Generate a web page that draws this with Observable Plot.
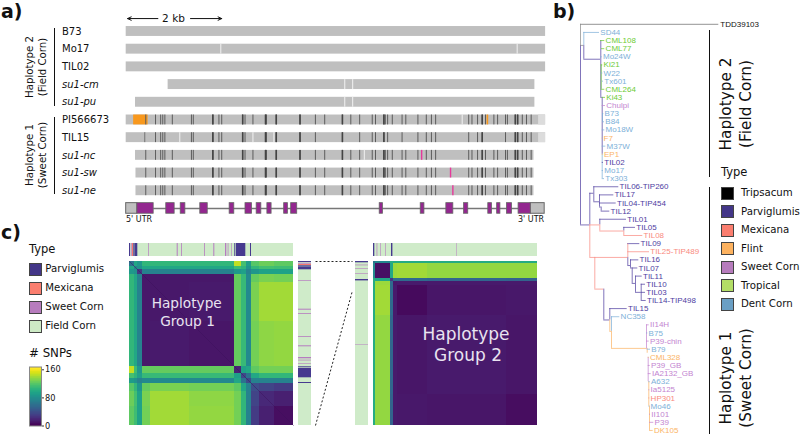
<!DOCTYPE html>
<html>
<head>
<meta charset="utf-8">
<script src="https://cdn.jsdelivr.net/npm/d3@7"></script>
<script src="https://cdn.jsdelivr.net/npm/@observablehq/plot@0.6"></script>
<style>
html,body{margin:0;padding:0;background:#fff}
#fig{position:relative;width:800px;height:434px;overflow:hidden;font-family:"DejaVu Sans",sans-serif;color:#111}
#fig>svg{position:absolute;background:none;overflow:visible}
.t{position:absolute;white-space:nowrap;line-height:1;transform:translate(0,-50%)}
.c{transform:translate(-50%,-50%)}
.r{transform:translate(-50%,-50%) rotate(-90deg)}
.sw{position:absolute;box-sizing:border-box;border:1px solid #444}
.ln{position:absolute;background:#111}
</style>
</head>
<body>
<div id="fig"></div>
<script>
// ---------- panel a: alignment, positions in kb ----------
const rowNames = ["B73","Mo17","TIL02","su1-cm","su1-pu","PI566673","TIL15","su1-nc","su1-sw","su1-ne"];
const rowItalic = [false,false,false,true,true,false,false,true,true,true];
const rowSpans = [[0,9],[0,9],[0,9],[0.90,8.77],[0.20,8.77],[0,9],[0,9],[0.20,8.75],[0.21,8.75],[0.21,8.75]];
const gapsByRow = {1:[2.03,8.39],3:[4.69,4.86],4:[4.69,4.86],5:[7.21],6:[0.40,1.15,2.72,3.17],7:[5.11]};
const snps = [0.42,0.63,0.74,0.785,0.83,0.99,1.40,1.44,1.86,1.99,2.05,2.50,2.55,2.72,2.99,3.01,3.22,3.73,4.06,4.26,4.64,4.82,5.01,5.28,5.35,5.53,5.56,5.61,5.71,5.92,6.00,6.26,6.44,6.55,6.64,7.35,7.42,7.54,7.64,7.71,7.89,7.97,8.14,8.18,8.35,8.40,8.50,8.59,8.69];
const snpsTil15 = [0.40,0.63,0.74,0.785,0.83,1.40,1.44,1.86,1.99,2.05,2.50,2.55,2.99,3.01,3.22,3.73,4.06,4.64,5.01,5.28,5.35,5.53,5.61,5.92,6.26,6.44,6.55,6.64,7.35,7.54,7.64,8.14,8.35,8.40,8.50,8.59,8.69];
const snpsStrong = [1.86,2.50,2.99,3.22,3.73,4.64,5.53,7.64,8.35,8.40];
const pinkByRow = {7:6.34,8:6.96,9:7.01};
const orangeBlock = [0.16,0.47];
const orangeTick = 7.75;
const fadedTail = [8.85,9];
const exons = [[0.24,0.59],[0.86,1.04],[1.17,1.27],[1.59,1.75],[2.22,2.32],[2.56,2.70],[2.80,2.90],[3.03,3.12],[3.39,3.47],[3.54,3.67],[5.44,5.51],[6.32,6.40],[6.87,7.02],[7.25,7.34],[7.77,7.85],[7.96,8.03],[8.17,8.28],[8.42,8.68]];
const utrs = [[0,0.24],[8.68,8.98]];
const geneSpan = [0.59,8.42];
const scaleBar = [[0.68,0.03],[1.38,2.05]];

// ---------- panel b: tree, depth in branch-length units, rows = tip order ----------
const treeTypes = ["Outgroup","Parviglumis","Mexicana","Flint","Sweet Corn","Tropical","Dent Corn"];
const treeColors = ["#888888","#4e3d9f","#f98a80","#fbb466","#c384d0","#6ccb35","#7db0d8"];
const tips = [
["SD44","Dent Corn",3.3,19],["CML108","Tropical",20,24.3],["CML77","Tropical",21,24.3],["Mo24W","Dent Corn",20,21.7],["Ki21","Tropical",20.7,22.3],["W22","Dent Corn",20.7,22.3],["Tx601","Dent Corn",21.7,23],["CML264","Tropical",20.7,24.3],["Ki43","Tropical",21.7,25],["Chulpi","Sweet Corn",21.7,25],["B73","Dent Corn",22,23.3],["B84","Dent Corn",22.3,24],["Mo18W","Dent Corn",21.7,24.3],["F7","Flint",21.7,22.3],["M37W","Dent Corn",21.7,25.3],["EP1","Flint",21.7,22.7],["TIL02","Parviglumis",21.7,23],["Mo17","Dent Corn",21.7,23],["Tx303","Dent Corn",21.7,24],
["TIL06-TIP260","Parviglumis",13.3,38.3],["TIL17","Parviglumis",19,33.3],["TIL04-TIP454","Parviglumis",19,35.7],["TIL12","Parviglumis",20.7,29.3],["TIL01","Parviglumis",19.3,46],["TIL05","Parviglumis",43.3,55],["TIL08","Mexicana",43.3,62.3],["TIL09","Parviglumis",48.3,59.3],["TIL25-TIP489","Mexicana",47.3,69],["TIL16","Parviglumis",50,58.3],["TIL07","Parviglumis",51.7,57.3],["TIL11","Parviglumis",55,61.7],["TIL10","Parviglumis",60.7,65],["TIL03","Parviglumis",60.7,65],["TIL14-TIP498","Parviglumis",60.7,65.7],["TIL15","Parviglumis",29.3,46.7],["NC358","Dent Corn",31,39.3],
["II14H","Sweet Corn",66,68.7],["B75","Dent Corn",66,67.3],["P39-chin","Sweet Corn",66,68.7],["B79","Dent Corn",66.7,70],["CML328","Flint",67.7,68.7],["P39_GB","Sweet Corn",67.7,69.7],["IA2132_GB","Sweet Corn",67.7,70.7],["A632","Dent Corn",68.3,69.7],["Ia5125","Sweet Corn",68.3,69.3],["HP301","Mexicana",68.3,69.3],["Mo46","Dent Corn",68.3,69.3],["II101","Sweet Corn",69,70],["P39","Sweet Corn",69,73.3],["DK105","Flint",69,72.7]];
const outgroup = ["TDD39103",-1,0,138.3];
const hBranches = [
[1.6,0,3.3,"Outgroup"],[3.3,3.3,20,"Parviglumis"],[8,20.3,21.7,"Parviglumis"],
[23.7,0,9.3,"Parviglumis"],[19.8,9.3,13.3,"Parviglumis"],[20.85,13.3,19,"Parviglumis"],[21.5,19,20.7,"Parviglumis"],
[23.7,9.3,19.3,"Mexicana"],[24.45,19.3,43.3,"Mexicana"],[27.7,9.3,47.3,"Mexicana"],
[26,47.3,48.3,"Parviglumis"],[28.7,47.3,50,"Parviglumis"],[29,50,51.7,"Parviglumis"],[30.9,51.7,55,"Parviglumis"],[32,55,60.7,"Parviglumis"],
[31.6,14.3,23.3,"Mexicana"],[35.4,23.3,29.3,"Parviglumis"],[36.8,29.3,31,"Flint"],[38.9,31,66,"Flint"]];
const vBranches = [
[0,-1,1.6,"Outgroup"],[0,1.6,23.7,"Parviglumis"],[3.3,0,1.6,"Dent Corn"],[3.3,1.6,3.3,"Parviglumis"],
[20.3,1,8,"Parviglumis"],[20.7,4,7,"Tropical"],[21.7,8,15,"Parviglumis"],[21.7,15,18,"Dent Corn"],[22,10,11,"Dent Corn"],
[9.3,19.8,23.7,"Parviglumis"],[9.3,23.7,27.7,"Mexicana"],[13.3,19,20.85,"Parviglumis"],[19,20,21.5,"Parviglumis"],[20.7,21.5,22,"Parviglumis"],
[19.3,23,23.7,"Parviglumis"],[19.3,23.7,24.45,"Mexicana"],[43.3,24,24.45,"Parviglumis"],[43.3,24.45,25,"Mexicana"],
[14.3,27.7,31.6,"Mexicana"],[47.3,26,27.7,"Mexicana"],[47.3,27.7,28.7,"Parviglumis"],[50,28,29,"Parviglumis"],[51.7,29,30.9,"Parviglumis"],[55,30,32,"Parviglumis"],[60.7,31,33,"Parviglumis"],
[23.3,31.6,35.4,"Parviglumis"],[29.3,34,35.4,"Parviglumis"],[29.3,35.4,36.8,"Flint"],[31,35,36.8,"Dent Corn"],[31,36.8,38.9,"Flint"],
[66,36,39,"Sweet Corn"],[66.7,38.9,39.5,"Flint"],[67.7,40,43,"Sweet Corn"],[68.3,43,46,"Flint"],[69,46,49,"Flint"]];

// ---------- panel c: pairwise SNP blocks (sample order), lower triangle rows ----------
const g1Edges = [0,5,8,13,21,60,105,112,117,122,130,145,164];
const g1Matrix = [
[60],
[95,70],
[85,80,25],
[105,95,70,10],
[105,95,70,10,10],
[105,95,70,10,11,9],
[145,110,85,122,122,122,15],
[112,104,90,108,108,108,90,35],
[88,82,70,75,75,75,95,60,35],
[118,106,84,122,128,126,120,95,70,38],
[124,112,92,128,138,133,126,105,70,32,18],
[120,110,92,126,138,134,126,105,70,28,14,6]];
const g2Edges = [0,2,17,20,24,54,133,164];
const g2Matrix = [
[60],
[75,7],
[100,95,25],
[98,136,55,10],
[98,138,55,11,4],
[98,134,52,11,9,11],
[98,134,50,11,10,9,5]];
const stripTypes = ["Parviglumis","Mexicana","Sweet Corn","Field Corn"];
const stripColors = ["#463a8f","#f8766d","#b67cc0","#cfebc9"];
const g1Stripes = [[0,1,"Parviglumis"],[1.7,2.7,"Sweet Corn"],[3,4,"Mexicana"],[4.3,5,"Parviglumis"],[5.3,8.3,"Parviglumis"],[19.3,20,"Sweet Corn"],[47.7,48.7,"Sweet Corn"],[52,52.8,"Sweet Corn"],[75.2,76,"Sweet Corn"],[84.3,85.3,"Sweet Corn"],[96,97.3,"Sweet Corn"],[98.7,99.4,"Sweet Corn"],[102,102.6,"Sweet Corn"],[105.3,106,"Parviglumis"],[106.7,116.3,"Parviglumis"],[121,122,"Parviglumis"]];
const g2Stripes = [[0,1.3,"Parviglumis"],[3.6,4.3,"Sweet Corn"],[7,7.6,"Sweet Corn"],[12,12.6,"Sweet Corn"],[18,19.4,"Parviglumis"],[83.3,83.8,"Sweet Corn"]];
const legendB = [["Tripsacum","#000000"],["Parviglumis","#433688"],["Mexicana","#fb7e6f"],["Flint","#fdb25f"],["Sweet Corn","#b77cbd"],["Tropical","#b3de66"],["Dent Corn","#6a9fc4"]];
const legendC = [["Parviglumis","#433688"],["Mexicana","#fb7e6f"],["Sweet Corn","#b77cbd"],["Field Corn","#cdeac5"]];
const snpTicks = [0,80,160];
const connectors = [[0,0,1,0],[0,164,1,29]];

const fig = document.getElementById("fig");
function place(svg,left,top){svg.style.left=left+"px";svg.style.top=top+"px";fig.appendChild(svg);}
function label(txt,x,y,size,o={}){
  const d=document.createElement("div");d.className="t "+(o.cls||"");d.textContent=txt;
  d.style.left=x+"px";d.style.top=y+"px";d.style.fontSize=size+"px";
  if(o.weight)d.style.fontWeight=o.weight;if(o.color)d.style.color=o.color;
  fig.appendChild(d);
}
function line(x,y,w,h){const d=document.createElement("div");d.className="ln";d.style.cssText+=`left:${x}px;top:${y}px;width:${w}px;height:${h}px`;fig.appendChild(d);}
function legend(items,x,y0,step,tx){
  items.forEach(([n,c],i)=>{
    const s=document.createElement("div");s.className="sw";
    s.style.cssText+=`left:${x}px;top:${y0+i*step-6.5}px;width:13px;height:13px;background:${c}`;
    fig.appendChild(s);label(n,tx,y0+i*step,10.2);
  });
}

// ---- panel a
const H=0.28;
const barRows=rowSpans.map(([a,b],i)=>({a,b,i}));
const gaps=Object.entries(gapsByRow).flatMap(([r,g])=>g.map(x=>({x,i:+r})));
const ticks=[5,7,8,9].flatMap(i=>snps.map(x=>({x,i}))).concat(snpsTil15.map(x=>({x,i:6})));
const strong=[5,6,7,8,9].flatMap(i=>snpsStrong.map(x=>({x,i})));
const pinks=Object.entries(pinkByRow).map(([r,x])=>({x,i:+r}));
const rowObjs=rowNames.map((n,i)=>({n,i,it:rowItalic[i]}));
const GENE=10;
const panelA=Plot.plot({
  width:550,height:226,margin:0,
  x:{domain:[-2.697,9.105],range:[0,550],axis:null},
  y:{domain:[-1.751,11.02],range:[0,226],axis:null},
  style:{background:"none"},
  marks:[
    Plot.rect(barRows,{x1:"a",x2:"b",y1:d=>d.i-H,y2:d=>d.i+H,fill:"#bfbfbf"}),
    Plot.rect([5,6],{x1:fadedTail[0],x2:fadedTail[1],y1:d=>d-H,y2:d=>d+H,fill:"#dcdcdc"}),
    Plot.ruleX(gaps,{x:"x",y1:d=>d.i-H,y2:d=>d.i+H,stroke:"#f2f2f2",strokeWidth:1}),
    Plot.rect([5],{x1:orangeBlock[0],x2:orangeBlock[1],y1:d=>d-H,y2:d=>d+H,fill:"#f8981d"}),
    Plot.ruleX(ticks,{x:"x",y1:d=>d.i-H,y2:d=>d.i+H,stroke:"#5c5c5c",strokeWidth:1}),
    Plot.ruleX(strong,{x:"x",y1:d=>d.i-H,y2:d=>d.i+H,stroke:"#444",strokeWidth:1.6}),
    Plot.ruleX([5],{x:orangeTick,y1:d=>d-H,y2:d=>d+H,stroke:"#f8981d",strokeWidth:1.6}),
    Plot.ruleX(pinks,{x:"x",y1:d=>d.i-H,y2:d=>d.i+H,stroke:"#e6399b",strokeWidth:1.4}),
    Plot.text(rowObjs.filter(d=>!d.it),{text:"n",y:"i",frameAnchor:"left",dx:61.5,textAnchor:"start",fontSize:10,fontFamily:"DejaVu Sans",fill:"#111"}),
    Plot.text(rowObjs.filter(d=>d.it),{text:"n",y:"i",frameAnchor:"left",dx:61.5,textAnchor:"start",fontSize:10,fontStyle:"italic",fontFamily:"DejaVu Sans",fill:"#111"}),
    Plot.ruleY([GENE],{x1:geneSpan[0],x2:geneSpan[1],stroke:"#777",strokeWidth:1.4}),
    Plot.rect(utrs,{x1:d=>d[0],x2:d=>d[1],y1:GENE-0.3,y2:GENE+0.3,fill:"#bfbfbf",stroke:"#666",strokeWidth:1}),
    Plot.rect(exons,{x1:d=>d[0],x2:d=>d[1],y1:GENE-0.3,y2:GENE+0.3,fill:"#93278f",stroke:"#666",strokeWidth:0.8}),
    Plot.arrow(scaleBar,{x1:d=>d[0],x2:d=>d[1],y1:-0.73,y2:-0.73,stroke:"#111",strokeWidth:1,headLength:6,headAngle:50,bend:false})
  ]
});
place(panelA,0,0);

label("2 kb",173.5,18,10.5,{cls:"c"});
label("5' UTR",126,220,8);
label("3' UTR",518,220,8);
label("a)",1,11,19,{weight:"bold"});
label("b)",553,11,19,{weight:"bold"});
label("c)",1,232,19,{weight:"bold"});
label("Haplotype 2",29.5,67,10.2,{cls:"r"});
label("(Field Corn)",43,67,10.2,{cls:"r"});
label("Haplotype 1",29.5,155,10.2,{cls:"r"});
label("(Sweet Corn)",43,155,10.2,{cls:"r"});
line(53.7,28,1.2,77.5);
line(53.7,116.7,1.2,77.6);

// ---- panel b
const tipObjs=tips.map(([n,type,a,b],i)=>({n,type,a,b,i}));
const hObjs=hBranches.map(([y,a,b,type])=>({y,a,b,type}));
const vObjs=vBranches.map(([x,a,b,type])=>({x,a,b,type}));
const panelB=Plot.plot({
  width:250,height:434,margin:0,
  x:{domain:[-30,220],range:[0,250],axis:null},
  y:{domain:[-3.93,49.5],range:[0,434],axis:null},
  color:{domain:treeTypes,range:treeColors},
  style:{background:"none"},
  marks:[
    Plot.ruleX(vObjs,{x:"x",y1:"a",y2:"b",stroke:"type",strokeWidth:0.9,strokeOpacity:0.8}),
    Plot.ruleY(hObjs,{y:"y",x1:"a",x2:"b",stroke:"type",strokeWidth:0.9,strokeOpacity:0.8}),
    Plot.ruleY(tipObjs,{y:"i",x1:"a",x2:"b",stroke:"type",strokeWidth:0.9,strokeOpacity:0.8}),
    Plot.ruleY([outgroup],{y:d=>d[1],x1:d=>d[2],x2:d=>d[3],stroke:()=>"Outgroup",strokeWidth:0.9}),
    Plot.text(tipObjs,{text:"n",x:"b",y:"i",dx:0.8,textAnchor:"start",fill:"type",fontSize:8,fontFamily:"Liberation Sans"}),
    Plot.text([outgroup],{text:d=>d[0],x:d=>d[3],y:d=>d[1],dx:1.5,textAnchor:"start",fill:"#111",fontSize:8,fontFamily:"Liberation Sans"})
  ]
});
place(panelB,550,0);

line(708.7,30,1.6,147);
line(708.7,186.7,1.6,247.3);
label("Haplotype 2",726.5,104,15.3,{cls:"r"});
label("(Field Corn)",746.5,104,15.3,{cls:"r"});
label("Haplotype 1",726.5,378,15.3,{cls:"r"});
label("(Sweet Corn)",746.5,378,15.3,{cls:"r"});
label("Type",721,173,11.5);
legend(legendB,721,193,18.5,741);

// ---- panel c
function blockCells(edges,matrix){
  const out=[];
  matrix.forEach((row,i)=>row.forEach((v,j)=>{
    out.push({x1:edges[j],x2:edges[j+1],y1:edges[i],y2:edges[i+1],v});
    if(i!==j)out.push({x1:edges[i],x2:edges[i+1],y1:edges[j],y2:edges[j+1],v});
  }));
  return out;
}
function heatmap(edges,matrix,withDiag){
  const n=edges[edges.length-1];
  return Plot.plot({
    width:n,height:n,margin:0,
    x:{domain:[0,n],range:[0,n],axis:null},
    y:{domain:[0,n],range:[0,n],axis:null},
    color:{type:"linear",scheme:"viridis",domain:[0,160],clamp:true},
    style:{background:"none"},
    marks:[
      Plot.rect(blockCells(edges,matrix),{x1:"x1",x2:"x2",y1:"y1",y2:"y2",fill:"v",shapeRendering:"crispEdges"}),
      withDiag?Plot.line([0,n],{x:d=>d,y:d=>d,stroke:"#3b0f5c",strokeWidth:0.9,strokeOpacity:0.5}):null
    ]
  });
}
function strip(stripes,horizontal,n){
  const thick=13;
  const o=horizontal
   ?{x1:d=>d[0],x2:d=>d[1],y1:0,y2:1}
   :{y1:d=>d[0],y2:d=>d[1],x1:0,x2:1};
  const base=horizontal?{x1:0,x2:n,y1:0,y2:1}:{y1:0,y2:n,x1:0,x2:1};
  return Plot.plot({
    width:horizontal?n:thick,height:horizontal?thick:n,margin:0,
    x:{domain:horizontal?[0,n]:[0,1],range:[0,horizontal?n:thick],axis:null},
    y:{domain:horizontal?[0,1]:[0,n],range:[0,horizontal?thick:n],axis:null},
    color:{domain:stripTypes,range:stripColors},
    style:{background:"none"},
    marks:[
      Plot.rect([0],{...base,fill:()=>"Field Corn"}),
      Plot.rect(stripes,{...o,fill:d=>d[2]})
    ]
  });
}
place(heatmap(g1Edges,g1Matrix,true),129,261);
place(heatmap(g2Edges,g2Matrix,false),373,261);
place(strip(g1Stripes,true,164),129,243);
place(strip(g1Stripes,false,164),298,261);
place(strip(g2Stripes,true,164),373,243);
place(strip(g2Stripes,false,164),355,261);
place(Plot.plot({
  width:37,height:165,margin:0,
  x:{domain:[0,1],range:[0,37],axis:null},
  y:{domain:[0,165],range:[0,165],axis:null},
  style:{background:"none"},
  marks:[Plot.link(connectors,{x1:d=>d[0],y1:d=>d[1],x2:d=>d[2],y2:d=>d[3],stroke:"#222",strokeWidth:1,strokeDasharray:"2,2"})]
}),315,261);

label("Haplotype",186.7,304,13.7,{cls:"c",color:"#e9e3f0"});
label("Group 1",187.5,321.5,13.7,{cls:"c",color:"#e9e3f0"});
label("Haplotype",466,334,17,{cls:"c",color:"#e9e3f0"});
label("Group 2",468,355,17,{cls:"c",color:"#e9e3f0"});

label("Type",29,250,11.5);
legend(legendC,29,269,19,45.3);
label("# SNPs",29,354,11.8);

const ramp=d3.range(0,168,2);
place(Plot.plot({
  width:60,height:60,marginLeft:0,marginRight:48,marginTop:0.5,marginBottom:0.5,
  x:{domain:[0,1],axis:null},
  y:{domain:[0,168],axis:null},
  color:{type:"linear",scheme:"viridis",domain:[0,160],clamp:true},
  style:{background:"none"},
  marks:[
    Plot.rect(ramp,{x1:0,x2:1,y1:d=>d,y2:d=>d+2,fill:d=>d,shapeRendering:"crispEdges"}),
    Plot.frame({stroke:"#888",strokeWidth:1}),
    Plot.axisY({anchor:"right",ticks:snpTicks,tickSize:2,tickPadding:1.5,label:null,fontSize:8.2,fontFamily:"DejaVu Sans",stroke:"#333"})
  ]
}),29,365.5);
</script>
</body>
</html>
